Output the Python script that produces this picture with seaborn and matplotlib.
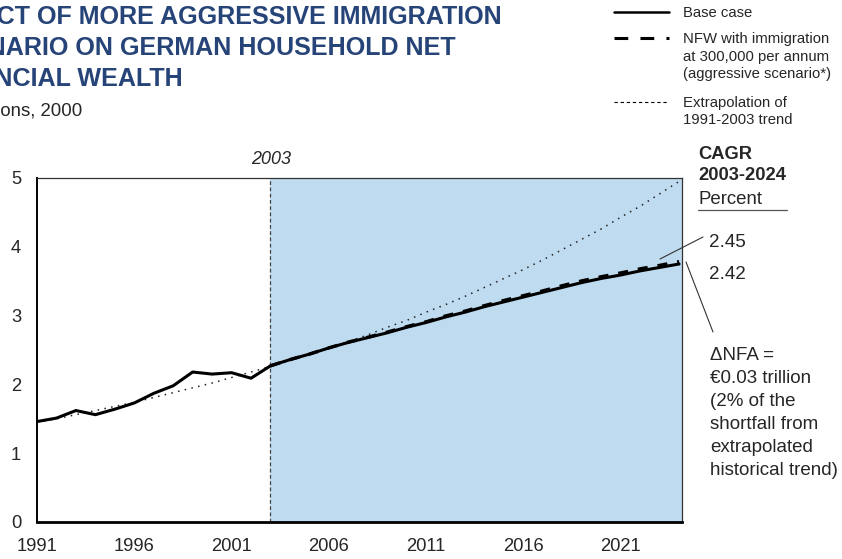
import matplotlib
matplotlib.use("Agg")
import matplotlib.pyplot as plt
from matplotlib.lines import Line2D
import seaborn as sns
import pandas as pd

# Household net financial wealth, EUR trillions (2000 prices)
hist_years = list(range(1991, 2004))
hist_values = [1.46, 1.51, 1.62, 1.56, 1.64, 1.73, 1.87, 1.98, 2.18, 2.15, 2.17, 2.09, 2.27]

proj_years = list(range(2003, 2025))
base_values = [2.27, 2.36, 2.44, 2.53, 2.61, 2.68, 2.75, 2.83, 2.90, 2.98, 3.05, 3.13,
               3.20, 3.27, 3.34, 3.41, 3.48, 3.54, 3.59, 3.65, 3.70, 3.75]
aggressive_values = [2.27, 2.36, 2.44, 2.53, 2.615, 2.685, 2.76, 2.84, 2.91, 2.995, 3.065, 3.145,
                     3.22, 3.29, 3.36, 3.435, 3.505, 3.565, 3.62, 3.68, 3.73, 3.785]

trend_years = list(range(1991, 2025))
trend_values = [1.45, 1.50, 1.56, 1.62, 1.68, 1.74, 1.81, 1.88, 1.95, 2.02, 2.10, 2.18,
                2.26, 2.35, 2.44, 2.53, 2.62, 2.72, 2.83, 2.93, 3.05, 3.16, 3.28, 3.41,
                3.54, 3.67, 3.81, 3.96, 4.11, 4.26, 4.43, 4.59, 4.77, 4.95]

x_ticks = [1991, 1996, 2001, 2006, 2011, 2016, 2021]
y_ticks = [0, 1, 2, 3, 4, 5]
cagr_labels = ["2.45", "2.42"]

title_lines = ["IMPACT OF MORE AGGRESSIVE IMMIGRATION",
               "SCENARIO ON GERMAN HOUSEHOLD NET",
               "FINANCIAL WEALTH"]
subtitle = "\u20ac trillions, 2000"
note_lines = ["\u0394NFA =", "\u20ac0.03 trillion", "(2% of the", "shortfall from",
              "extrapolated", "historical trend)"]

W, H = 842, 559
sns.set_style("white")
plt.rcParams["font.family"] = ["Liberation Sans", "DejaVu Sans"]

fig = plt.figure(figsize=(W / 100, H / 100), dpi=100)


def fx(px):
    return px / W


def fy(py):
    return 1 - py / H


ax = fig.add_axes([fx(37), fy(522), (682 - 37) / W, (522 - 178) / H])

blue_fill = "#BFDBEF"
ax.axvspan(2003, 2024.15, color=blue_fill, lw=0, zorder=0)
ax.axvline(2003, color="#444444", lw=0.9, ls=(0, (3, 2)), zorder=1)

trend_df = pd.DataFrame({"year": trend_years, "value": trend_values})
hist_df = pd.DataFrame({"year": hist_years, "value": hist_values})
base_df = pd.DataFrame({"year": proj_years, "value": base_values})
aggr_df = pd.DataFrame({"year": proj_years, "value": aggressive_values})

sns.lineplot(data=trend_df, x="year", y="value", ax=ax, color="#222222",
             lw=1.1, ls=(0, (1, 3.5)), zorder=2)
sns.lineplot(data=aggr_df, x="year", y="value", ax=ax, color="black",
             lw=2.4, ls=(0, (3, 3)), zorder=3)
sns.lineplot(data=hist_df, x="year", y="value", ax=ax, color="black",
             lw=2.2, zorder=4)
sns.lineplot(data=base_df, x="year", y="value", ax=ax, color="black",
             lw=2.2, zorder=4)

tick_fs = 13.2
ax.set_xlim(1991, 2024.15)
ax.set_ylim(0, 5)
ax.set_xticks(x_ticks)
ax.set_xticklabels([str(t) for t in x_ticks], fontsize=tick_fs)
ax.set_yticks(y_ticks)
ax.set_yticklabels([str(t) for t in y_ticks], fontsize=tick_fs)
ax.set_xlabel("")
ax.set_ylabel("")
ax.tick_params(axis="x", direction="in", length=5, width=0.8, color="#555555", pad=11.5)
ax.tick_params(axis="y", length=0, pad=11.5)
for side in ["top", "right"]:
    ax.spines[side].set_linewidth(0.9)
    ax.spines[side].set_color("#333333")
ax.spines["left"].set_linewidth(1.4)
ax.spines["left"].set_color("black")
ax.spines["bottom"].set_linewidth(2.0)
ax.spines["bottom"].set_color("black")

# Year marker above the shaded projection period
fig.text(fx(271), fy(164), "2003", fontsize=13, style="italic", ha="center", va="baseline")

# Title block
title_color = "#264478"
for line, base in zip(title_lines, [24, 55, 86]):
    fig.text(fx(-64), fy(base), line, fontsize=18.1, fontweight="bold",
             color=title_color, ha="left", va="baseline")
fig.text(fx(82.5), fy(116), subtitle, fontsize=13.4, ha="right", va="baseline")

# Legend
leg_fs = 10.7
legend_rows = [
    (12, "-", 1.8, ["Base case"]),
    (38, (0, (4.5, 4)), 2.2, ["NFW with immigration", "at 300,000 per annum",
                               "(aggressive scenario*)"]),
    (102, (0, (3, 2.5)), 0.8, ["Extrapolation of", "1991-2003 trend"]),
]
for y, style, lw, lines in legend_rows:
    fig.add_artist(Line2D([fx(614), fx(669)], [fy(y), fy(y)], color="black", lw=lw,
                          ls=style, transform=fig.transFigure))
    for i, text in enumerate(lines):
        fig.text(fx(683), fy(y + 5 + i * 17.5), text, fontsize=leg_fs,
                 ha="left", va="baseline")

# CAGR block
fig.text(fx(698), fy(159), "CAGR", fontsize=13.2, fontweight="bold", ha="left", va="baseline")
fig.text(fx(698), fy(180), "2003-2024", fontsize=13.2, fontweight="bold",
         ha="left", va="baseline")
fig.text(fx(698), fy(204), "Percent", fontsize=13.4, ha="left", va="baseline")
fig.add_artist(Line2D([fx(698), fx(787)], [fy(209.5), fy(209.5)], color="#555555", lw=0.9,
                      transform=fig.transFigure))
fig.text(fx(709), fy(247), cagr_labels[0], fontsize=13.6, ha="left", va="baseline")
fig.text(fx(709), fy(279), cagr_labels[1], fontsize=13.6, ha="left", va="baseline")
fig.add_artist(Line2D([fx(660), fx(703)], [fy(259), fy(237)], color="#333333", lw=0.8,
                      transform=fig.transFigure))
fig.add_artist(Line2D([fx(686), fx(713)], [fy(262), fy(332)], color="#333333", lw=0.8,
                      transform=fig.transFigure))

for i, text in enumerate(note_lines):
    fig.text(fx(710), fy(360 + i * 23), text, fontsize=13.5, ha="left", va="baseline")

fig.savefig("out.png", dpi=100)
